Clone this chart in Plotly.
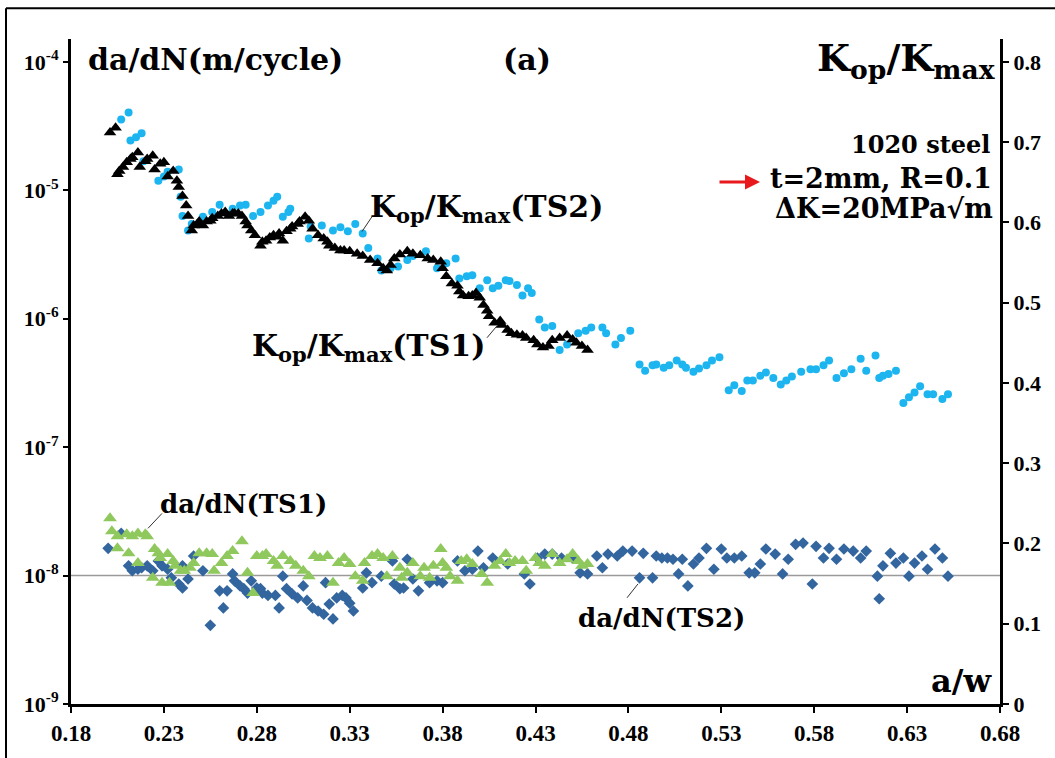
import plotly.graph_objects as go

# ---- crack closure ratio Kop/Kmax versus a/w ----
aw_kop_ts2 = [0.207, 0.211, 0.212, 0.215, 0.218, 0.219, 0.227, 0.230, 0.232, 0.238,
              0.239, 0.240, 0.243, 0.245, 0.251, 0.256, 0.260, 0.267, 0.271, 0.274,
              0.278, 0.282, 0.286, 0.289, 0.291, 0.294, 0.297, 0.298, 0.308, 0.309,
              0.315, 0.321, 0.325, 0.329, 0.333, 0.337, 0.340, 0.345, 0.347, 0.352,
              0.356, 0.361, 0.364, 0.371, 0.377, 0.382, 0.387, 0.389, 0.393, 0.396,
              0.400, 0.404, 0.407, 0.410, 0.414, 0.416, 0.420, 0.423, 0.426, 0.428,
              0.432, 0.435, 0.439, 0.443, 0.447, 0.453, 0.457, 0.460, 0.466, 0.468,
              0.473, 0.476, 0.481, 0.486, 0.489, 0.493, 0.495, 0.499, 0.502, 0.506,
              0.509, 0.511, 0.515, 0.518, 0.522, 0.525, 0.529, 0.534, 0.537, 0.541,
              0.544, 0.547, 0.551, 0.554, 0.558, 0.562, 0.565, 0.568, 0.573, 0.578,
              0.581, 0.585, 0.588, 0.592, 0.596, 0.600, 0.605, 0.608, 0.613, 0.615,
              0.617, 0.620, 0.624, 0.628, 0.631, 0.634, 0.637, 0.641, 0.644, 0.649, 0.652]
kop_ts2 = [0.728, 0.737, 0.702, 0.706, 0.711, 0.676, 0.652, 0.657, 0.663, 0.666,
           0.632, 0.608, 0.590, 0.598, 0.607, 0.613, 0.622, 0.617, 0.621, 0.622,
           0.608, 0.613, 0.621, 0.627, 0.632, 0.607, 0.613, 0.617, 0.580, 0.595,
           0.596, 0.590, 0.594, 0.589, 0.598, 0.586, 0.568, 0.555, 0.540, 0.543,
           0.545, 0.553, 0.558, 0.564, 0.543, 0.549, 0.555, 0.530, 0.533, 0.534,
           0.518, 0.528, 0.518, 0.521, 0.528, 0.527, 0.522, 0.509, 0.518, 0.512,
           0.479, 0.469, 0.471, 0.441, 0.448, 0.462, 0.465, 0.469, 0.469, 0.462,
           0.448, 0.456, 0.465, 0.423, 0.415, 0.422, 0.423, 0.419, 0.422, 0.428,
           0.423, 0.419, 0.414, 0.418, 0.422, 0.428, 0.432, 0.391, 0.397, 0.390,
           0.403, 0.403, 0.409, 0.413, 0.406, 0.398, 0.403, 0.408, 0.414, 0.417,
           0.417, 0.422, 0.428, 0.406, 0.412, 0.417, 0.430, 0.415, 0.434, 0.406,
           0.409, 0.411, 0.415, 0.375, 0.382, 0.388, 0.396, 0.386, 0.386, 0.380, 0.386]

aw_kop_ts1 = [0.201, 0.204, 0.205, 0.206, 0.208, 0.210, 0.212, 0.213, 0.216, 0.217,
              0.220, 0.221, 0.224, 0.225, 0.228, 0.230, 0.232, 0.235, 0.237, 0.238,
              0.240, 0.242, 0.243, 0.245, 0.246, 0.248, 0.249, 0.251, 0.253, 0.255,
              0.256, 0.259, 0.261, 0.263, 0.265, 0.267, 0.268, 0.270, 0.272, 0.274,
              0.275, 0.277, 0.279, 0.282, 0.283, 0.285, 0.287, 0.289, 0.291, 0.292,
              0.294, 0.296, 0.298, 0.299, 0.302, 0.303, 0.306, 0.308, 0.310, 0.313,
              0.316, 0.318, 0.319, 0.322, 0.325, 0.327, 0.330, 0.334, 0.337, 0.341,
              0.345, 0.348, 0.350, 0.352, 0.354, 0.357, 0.361, 0.364, 0.368, 0.372,
              0.375, 0.379, 0.380, 0.382, 0.385, 0.388, 0.389, 0.391, 0.394, 0.396,
              0.398, 0.400, 0.402, 0.404, 0.405, 0.408, 0.411, 0.412, 0.415, 0.417,
              0.420, 0.423, 0.425, 0.429, 0.431, 0.434, 0.437, 0.439, 0.443, 0.447,
              0.450, 0.452, 0.455, 0.458]
kop_ts1 = [0.712, 0.718, 0.660, 0.664, 0.669, 0.675, 0.679, 0.681, 0.687, 0.669,
           0.676, 0.679, 0.683, 0.666, 0.673, 0.675, 0.657, 0.664, 0.652, 0.644,
           0.633, 0.621, 0.608, 0.590, 0.596, 0.598, 0.601, 0.596, 0.601, 0.602,
           0.605, 0.608, 0.611, 0.613, 0.608, 0.611, 0.611, 0.611, 0.608, 0.601,
           0.596, 0.590, 0.584, 0.571, 0.576, 0.577, 0.581, 0.584, 0.582, 0.586,
           0.577, 0.589, 0.592, 0.595, 0.598, 0.601, 0.607, 0.602, 0.592, 0.584,
           0.580, 0.576, 0.571, 0.568, 0.565, 0.565, 0.564, 0.561, 0.558, 0.553,
           0.549, 0.543, 0.540, 0.547, 0.555, 0.560, 0.564, 0.561, 0.559, 0.555,
           0.553, 0.551, 0.543, 0.533, 0.524, 0.521, 0.514, 0.509, 0.508, 0.509,
           0.512, 0.506, 0.497, 0.490, 0.483, 0.475, 0.477, 0.472, 0.466, 0.462,
           0.460, 0.459, 0.456, 0.453, 0.448, 0.444, 0.446, 0.453, 0.456, 0.459,
           0.454, 0.450, 0.446, 0.441]

# ---- crack growth rate da/dN (m/cycle) versus a/w ----
aw_dadn_ts1 = [0.201, 0.202, 0.205, 0.205, 0.210, 0.211, 0.213, 0.216, 0.216, 0.220,
               0.221, 0.224, 0.225, 0.227, 0.228, 0.229, 0.232, 0.233, 0.235, 0.236,
               0.239, 0.241, 0.244, 0.246, 0.249, 0.253, 0.256, 0.257, 0.261, 0.264,
               0.267, 0.272, 0.275, 0.278, 0.280, 0.283, 0.285, 0.289, 0.291, 0.294,
               0.298, 0.301, 0.305, 0.308, 0.311, 0.314, 0.318, 0.321, 0.324, 0.327,
               0.330, 0.333, 0.337, 0.338, 0.342, 0.345, 0.348, 0.350, 0.353, 0.357,
               0.358, 0.361, 0.364, 0.368, 0.370, 0.373, 0.375, 0.379, 0.380, 0.382,
               0.384, 0.388, 0.390, 0.393, 0.396, 0.401, 0.404, 0.408, 0.411, 0.414,
               0.416, 0.419, 0.423, 0.425, 0.430, 0.432, 0.435, 0.439, 0.443, 0.447,
               0.450, 0.453, 0.455, 0.458]
dadn_ts1 = [2.79e-8, 2.21e-8, 2.02e-8, 1.63e-8, 2.10e-8, 1.49e-8, 2.02e-8, 1.25e-8, 2.13e-8, 2.10e-8,
            2.02e-8, 0.96e-8, 1.61e-8, 1.49e-8, 1.37e-8, 0.88e-8, 1.47e-8, 0.88e-8, 1.30e-8, 1.19e-8,
            1.09e-8, 1.09e-8, 1.15e-8, 1.25e-8, 1.49e-8, 1.49e-8, 1.47e-8, 1.09e-8, 1.25e-8, 1.42e-8,
            1.55e-8, 1.85e-8, 1.05e-8, 0.73e-8, 1.42e-8, 1.42e-8, 1.47e-8, 1.30e-8, 1.19e-8, 1.42e-8,
            1.30e-8, 1.19e-8, 1.09e-8, 0.99e-8, 1.42e-8, 1.37e-8, 1.42e-8, 0.88e-8, 1.25e-8, 1.37e-8,
            1.23e-8, 0.99e-8, 0.91e-8, 1.25e-8, 1.42e-8, 1.47e-8, 1.37e-8, 0.99e-8, 1.42e-8, 1.15e-8,
            0.96e-8, 1.05e-8, 1.25e-8, 0.99e-8, 1.15e-8, 0.96e-8, 1.19e-8, 1.61e-8, 1.25e-8, 1.15e-8,
            0.99e-8, 0.91e-8, 1.30e-8, 1.34e-8, 1.23e-8, 1.03e-8, 0.88e-8, 1.19e-8, 1.30e-8, 1.47e-8,
            1.25e-8, 1.30e-8, 1.30e-8, 1.09e-8, 1.37e-8, 1.25e-8, 1.19e-8, 1.47e-8, 1.25e-8, 1.34e-8,
            1.47e-8, 1.30e-8, 1.19e-8, 1.23e-8]

aw_dadn_ts2 = [0.200, 0.207, 0.211, 0.213, 0.216, 0.218, 0.221, 0.224, 0.227, 0.229,
               0.232, 0.234, 0.238, 0.240, 0.240, 0.243, 0.246, 0.251, 0.255, 0.260,
               0.262, 0.264, 0.267, 0.268, 0.271, 0.273, 0.275, 0.277, 0.280, 0.282,
               0.283, 0.286, 0.290, 0.292, 0.294, 0.296, 0.299, 0.302, 0.305, 0.307,
               0.310, 0.313, 0.316, 0.317, 0.319, 0.321, 0.323, 0.326, 0.328, 0.330,
               0.332, 0.337, 0.339, 0.342, 0.347, 0.353, 0.354, 0.357, 0.359, 0.361,
               0.364, 0.367, 0.373, 0.377, 0.380, 0.388, 0.392, 0.396, 0.399, 0.402,
               0.407, 0.415, 0.424, 0.427, 0.431, 0.435, 0.439, 0.444, 0.450, 0.454,
               0.458, 0.463, 0.466, 0.469, 0.474, 0.477, 0.482, 0.486, 0.488, 0.493,
               0.495, 0.498, 0.501, 0.504, 0.507, 0.509, 0.512, 0.515, 0.518, 0.522,
               0.526, 0.530, 0.533, 0.537, 0.541, 0.545, 0.548, 0.551, 0.554, 0.559,
               0.563, 0.566, 0.570, 0.574, 0.579, 0.581, 0.585, 0.588, 0.592, 0.596,
               0.601, 0.605, 0.608, 0.614, 0.615, 0.617, 0.621, 0.624, 0.628, 0.631,
               0.634, 0.638, 0.641, 0.645, 0.649, 0.652]
dadn_ts2 = [1.63e-8, 2.13e-8, 1.19e-8, 1.09e-8, 1.12e-8, 1.15e-8, 1.19e-8, 1.09e-8, 1.30e-8, 1.19e-8,
            1.12e-8, 0.96e-8, 0.86e-8, 0.80e-8, 1.19e-8, 0.94e-8, 1.42e-8, 1.09e-8, 0.41e-8, 0.76e-8,
            0.56e-8, 0.76e-8, 1.03e-8, 0.91e-8, 0.83e-8, 0.79e-8, 0.73e-8, 0.91e-8, 0.80e-8, 0.79e-8,
            0.73e-8, 0.70e-8, 0.70e-8, 0.56e-8, 0.99e-8, 0.79e-8, 0.72e-8, 0.67e-8, 0.83e-8, 0.64e-8,
            0.56e-8, 0.53e-8, 0.50e-8, 0.88e-8, 0.60e-8, 0.46e-8, 0.67e-8, 0.70e-8, 0.67e-8, 0.61e-8,
            0.53e-8, 0.80e-8, 1.05e-8, 0.88e-8, 0.99e-8, 1.30e-8, 0.86e-8, 0.79e-8, 0.80e-8, 1.34e-8,
            0.94e-8, 0.76e-8, 0.88e-8, 0.91e-8, 0.88e-8, 1.30e-8, 1.09e-8, 1.12e-8, 1.55e-8, 1.15e-8,
            1.37e-8, 1.23e-8, 1.03e-8, 0.86e-8, 1.37e-8, 1.47e-8, 1.47e-8, 1.37e-8, 1.37e-8, 1.05e-8,
            1.03e-8, 1.42e-8, 1.15e-8, 1.47e-8, 1.42e-8, 1.55e-8, 1.55e-8, 0.96e-8, 1.49e-8, 0.96e-8,
            1.42e-8, 1.37e-8, 1.37e-8, 1.34e-8, 1.03e-8, 1.34e-8, 0.83e-8, 1.23e-8, 1.37e-8, 1.63e-8,
            1.12e-8, 1.61e-8, 1.37e-8, 1.37e-8, 1.42e-8, 1.05e-8, 1.05e-8, 1.23e-8, 1.61e-8, 1.47e-8,
            1.03e-8, 1.34e-8, 1.75e-8, 1.79e-8, 0.86e-8, 1.69e-8, 1.37e-8, 1.63e-8, 1.34e-8, 1.61e-8,
            1.55e-8, 1.37e-8, 1.55e-8, 0.99e-8, 0.66e-8, 1.19e-8, 1.49e-8, 1.25e-8, 1.37e-8, 0.99e-8,
            1.25e-8, 1.42e-8, 1.12e-8, 1.61e-8, 1.37e-8, 0.99e-8]

# ---- axis ticks ----
aw_ticks = [0.18, 0.23, 0.28, 0.33, 0.38, 0.43, 0.48, 0.53, 0.58, 0.63, 0.68]
aw_tick_labels = ["0.18", "0.23", "0.28", "0.33", "0.38", "0.43", "0.48", "0.53", "0.58", "0.63", "0.68"]
rate_ticks = [1e-9, 1e-8, 1e-7, 1e-6, 1e-5, 1e-4]
rate_tick_labels = ["10<sup>-9</sup>", "10<sup>-8</sup>", "10<sup>-7</sup>",
                    "10<sup>-6</sup>", "10<sup>-5</sup>", "10<sup>-4</sup>"]
ratio_ticks = [0, 0.1, 0.2, 0.3, 0.4, 0.5, 0.6, 0.7, 0.8]
ratio_tick_labels = ["0", "0.1", "0.2", "0.3", "0.4", "0.5", "0.6", "0.7", "0.8"]

# ---- canvas geometry (pixels) ----
W, H = 1055, 758
ML, MR, MT, MB = 71, 55, 39, 49
PW, PH = W - ML - MR, H - MT - MB
DECADE_PX = 129.4          # pixels per decade on the rate axis
RATIO_PX = 808.75          # pixels per unit on the Kop/Kmax axis


def px(x):
    return (x - ML) / PW


def py(y):
    return (MT + PH - y) / PH


SERIF = "Liberation Serif"
LABEL = "DejaVu Serif"

fig = go.Figure()

# reference level at 1e-8
fig.add_trace(go.Scatter(x=[0.18, 0.68], y=[1e-8, 1e-8], mode="lines",
                         line=dict(color="#9a9a9a", width=1.5),
                         hoverinfo="skip", showlegend=False))

fig.add_trace(go.Scatter(x=aw_dadn_ts2, y=dadn_ts2, mode="markers", name="da/dN(TS2)",
                         marker=dict(symbol="diamond", size=9, color="#33659f")))
fig.add_trace(go.Scatter(x=aw_dadn_ts1, y=dadn_ts1, mode="markers", name="da/dN(TS1)",
                         marker=dict(symbol="triangle-up", size=12, color="#8fc85c")))
fig.add_trace(go.Scatter(x=aw_kop_ts2, y=kop_ts2, mode="markers", name="Kop/Kmax(TS2)",
                         yaxis="y2", marker=dict(symbol="circle", size=8, color="#1cb5f0")))
fig.add_trace(go.Scatter(x=aw_kop_ts1, y=kop_ts1, mode="markers", name="Kop/Kmax(TS1)",
                         yaxis="y2", marker=dict(symbol="triangle-up", size=11, color="black")))

fig.update_layout(
    width=W, height=H,
    margin=dict(l=ML, r=MR, t=MT, b=MB, pad=0),
    paper_bgcolor="white", plot_bgcolor="white",
    showlegend=False,
    xaxis=dict(range=[0.18, 0.68], tickvals=aw_ticks, ticktext=aw_tick_labels,
               showgrid=False, zeroline=False, showline=True, linecolor="black",
               linewidth=3, ticks="outside", ticklen=6, tickwidth=1.5,
               tickcolor="black",
               tickfont=dict(family=SERIF, size=23, color="black", weight="bold")),
    yaxis=dict(type="log", range=[-9, -9 + PH / DECADE_PX], tickvals=rate_ticks,
               ticktext=rate_tick_labels, showgrid=False, zeroline=False,
               showline=True, linecolor="black", linewidth=3, ticks="outside",
               ticklen=5, tickwidth=1.5, tickcolor="black",
               tickfont=dict(family=SERIF, size=22, color="black", weight="bold")),
    yaxis2=dict(overlaying="y", side="right", range=[0, PH / RATIO_PX],
                tickvals=ratio_ticks, ticktext=ratio_tick_labels, showgrid=False,
                zeroline=False, showline=True, linecolor="black", linewidth=3,
                ticks="outside", ticklen=6, tickwidth=1.5, tickcolor="black",
                tickfont=dict(family=SERIF, size=22, color="black", weight="bold")),
)


def label(text, x, y, size, xanchor="left", yanchor="middle", family=LABEL):
    fig.add_annotation(text=text, x=px(x), y=py(y), xref="paper", yref="paper",
                       xanchor=xanchor, yanchor=yanchor, showarrow=False,
                       font=dict(family=family, size=size, color="black", weight="bold"))


KOP = "K<sub>op</sub>/K<sub>max</sub>"

label("da/dN(m/cycle)", 86, 60, 30)
label("(a)", 527, 60, 30, xanchor="center")
label(KOP, 998, 60, 38, xanchor="right")
label("1020 steel", 992, 145, 24, xanchor="right")
label("t=2mm, R=0.1", 994, 180, 27, xanchor="right")
label("ΔK=20MPa√m", 995, 210, 27, xanchor="right")
label("a/w", 994, 686, 32, xanchor="right")
label(KOP + "(TS2)", 368, 210, 30)
label(KOP + "(TS1)", 487, 350, 30, xanchor="right")
label("da/dN(TS1)", 158, 507, 26)
label("da/dN(TS2)", 576, 622, 26)

# red pointer in front of the test-condition line
fig.add_annotation(x=px(760), y=py(183), xref="paper", yref="paper", text="",
                   showarrow=True, ax=-42, ay=0, arrowhead=2, arrowsize=1,
                   arrowwidth=3, arrowcolor="#e8191c")

# leader lines from the series labels to the data
leaders = [((372, 218), (362, 233)), ((487, 340), (497, 328)),
           ((162, 517), (148, 532)), ((627, 602), (638, 588))]
for (x0, y0), (x1, y1) in leaders:
    fig.add_shape(type="line", xref="paper", yref="paper",
                  x0=px(x0), y0=py(y0), x1=px(x1), y1=py(y1),
                  line=dict(color="#333333", width=1))

# outer frame of the figure panel
fig.add_shape(type="line", xref="paper", yref="paper", x0=px(6), y0=py(8),
              x1=px(1060), y1=py(8), line=dict(color="black", width=2))
fig.add_shape(type="line", xref="paper", yref="paper", x0=px(6), y0=py(8),
              x1=px(6), y1=py(765), line=dict(color="black", width=2))

fig.write_html("out.html")
